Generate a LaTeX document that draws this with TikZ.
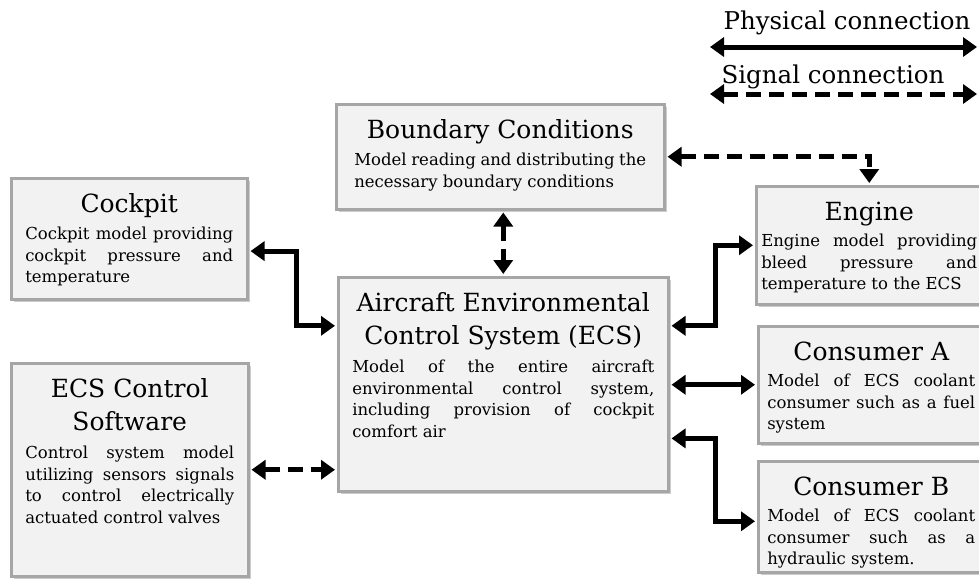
\documentclass[tikz,border=0pt]{standalone}
\usepackage{fontspec}
\setmainfont{DejaVu Serif}
\usetikzlibrary{arrows.meta,positioning,shadows,calc}
\definecolor{BlockFill}{HTML}{F2F2F2}
\definecolor{BlockEdge}{HTML}{A6A6A6}
\newcommand{\titlefont}{\fontsize{25}{33}\selectfont}
\newcommand{\legendfont}{\fontsize{24.5}{30}\selectfont}
\newcommand{\bodyfont}{\fontsize{16.5}{21.5}\selectfont\hyphenpenalty=10000\exhyphenpenalty=10000}
\tikzset{
  >={Triangle[length=14pt,width=19pt]},
  blockbase/.style={rectangle, draw=BlockEdge, line width=2.5pt, fill=BlockFill,
    drop shadow={shadow xshift=2.5pt, shadow yshift=-2.5pt, opacity=0.4},
    anchor=north west, align=justify, inner xsep=14pt, inner ysep=8pt,
    text height=26pt, font=\bodyfont},
  block/.style 2 args={blockbase, text width={#1pt-28pt},
    minimum width=#1pt, minimum height=#2pt, text depth={#2pt-42pt}},
  physical/.style={draw, <->, line width=5pt, shorten <=2pt, shorten >=2pt},
  signal/.style={physical, dash pattern=on 15pt off 8pt}
}

\begin{document}
\begin{tikzpicture}[x=1pt, y=-1pt]
\useasboundingbox (0,0) rectangle (979,581);

\node[block={236}{121}] (cockpit) at (10,177) {%
{\centering\titlefont Cockpit\par}\vspace{6pt}
Cockpit model providing cockpit pressure and temperature};

\node[block={237}{213}] (control) at (10,362) {%
{\centering\titlefont ECS Control\\Software\par}\vspace{7pt}
Control system model utilizing sensors signals to control electrically
actuated control valves};

\node[block={328}{105}, text width=292pt] (boundary) at (335,103) {%
{\centering\titlefont Boundary Conditions\par}\vspace{6pt}
Model reading and distributing the necessary boundary conditions};

\node[block={330}{214}] (ecs) at (337,276) {%
{\centering\titlefont Aircraft Environmental\\Control System (ECS)\par}\vspace{7pt}
Model of the entire aircraft environmental control system, including
provision of cockpit comfort air};

\node[block={226}{118}, inner xsep=5pt, text width=216pt] (engine) at (755,185) {%
{\centering\titlefont Engine\par}\vspace{5pt}
Engine model providing bleed pressure and temperature to the ECS};

\node[block={224}{117}, inner xsep=9pt, text width=208pt] (consumerA) at (757,325) {%
{\centering\titlefont Consumer A\par}\vspace{5pt}
Model of ECS coolant consumer such as a fuel system};

\node[block={224}{111}, inner xsep=9pt, text width=208pt] (consumerB) at (757,460) {%
{\centering\titlefont Consumer B\par}\vspace{5pt}
Model of ECS coolant consumer such as a hydraulic system.};

% legend
\node[font=\legendfont, anchor=base] (physlabel) at (847,29) {Physical connection};
\node[font=\legendfont, anchor=base] (siglabel) at (833,83) {Signal connection};
\coordinate (physL) at (708,47);
\coordinate (physR) at (979,47);
\coordinate (sigL) at (708,94);
\coordinate (sigR) at (979,94);

\draw[physical] (physL) -- (physR);
\draw[signal]   (sigL)  -- (sigR);

% connections
\draw[physical] ($(cockpit.north east)!0.6!(cockpit.south east)$) -- ++(48,0)
  |- ($(ecs.north west)!0.23!(ecs.south west)$);
\draw[signal]   (ecs.north |- boundary.south) -- (ecs.north);
\draw[signal]   (boundary.east) -| (engine.north);
\draw[physical] ($(ecs.north east)!0.23!(ecs.south east)$) -- ++(46,0)
  |- (engine.west);
\draw[physical] (ecs.east |- consumerA.west) -- (consumerA.west);
\draw[physical] ($(ecs.north east)!0.75!(ecs.south east)$) -- ++(46,0)
  |- ($(consumerB.north west)!0.54!(consumerB.south west)$);
\draw[signal]   (control.east) -- (control.east -| ecs.west);

\end{tikzpicture}
\end{document}
